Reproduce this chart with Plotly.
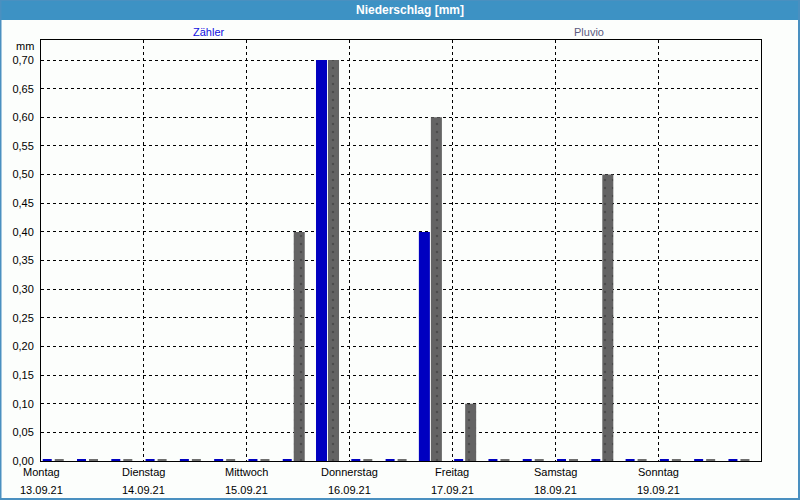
import plotly.graph_objects as go

# ---- data ----
days = ["Montag", "Dienstag", "Mittwoch", "Donnerstag", "Freitag", "Samstag", "Sonntag"]
dates = ["13.09.21", "14.09.21", "15.09.21", "16.09.21", "17.09.21", "18.09.21", "19.09.21"]
interval_hours = 8  # three 8-hour intervals per day
zaehler = [0, 0, 0,  0, 0, 0,  0, 0, 0.70,  0, 0, 0.40,  0, 0, 0,  0, 0, 0,  0, 0, 0]
pluvio = [0, 0, 0,  0, 0, 0,  0, 0.40, 0.70,  0, 0, 0.60,  0.10, 0, 0,  0, 0.50, 0,  0, 0, 0]
series_names = ["Zähler", "Pluvio"]
y_ticks = [round(0.05 * i, 2) for i in range(15)]

x_start = [i * interval_hours for i in range(len(zaehler))]

# ---- style ----
BLUE = "#0000c0"
GRAY = "#646464"
BG = "#fcfefc"
FONT = "Liberation Sans"
STUB = 0.0035  # visual baseline stub for zero values
bar_w = 2.57
blue_off, gray_off = 0.17, 2.97
stub_w = 2.1

fig = go.Figure()

# baseline stubs (drawn for every interval; hidden beneath real bars)
fig.add_trace(go.Bar(x=x_start, y=[STUB] * len(x_start), width=stub_w,
                     offset=blue_off + (bar_w - stub_w) / 2,
                     marker=dict(color=BLUE, line=dict(width=0)), showlegend=False, hoverinfo="skip"))
fig.add_trace(go.Bar(x=x_start, y=[STUB] * len(x_start), width=stub_w,
                     offset=gray_off + (bar_w - stub_w) / 2,
                     marker=dict(color="#6e6e6e", line=dict(width=0)), showlegend=False, hoverinfo="skip"))

fig.add_trace(go.Bar(name=series_names[0], x=x_start, y=zaehler, width=bar_w, offset=blue_off,
                     marker=dict(color=BLUE, line=dict(width=0)), showlegend=False))
fig.add_trace(go.Bar(name=series_names[1], x=x_start, y=pluvio, width=bar_w, offset=gray_off,
                     marker=dict(color=GRAY, line=dict(width=0),
                                 pattern=dict(shape=".", bgcolor=GRAY, fgcolor="#333333",
                                              size=8, solidity=0.08)),
                     showlegend=False))

L, R, T, B = 41, 39, 40, 39
W, H = 800, 500
pw, ph = W - L - R, H - T - B


def px_x(p):
    return (p - L) / pw


def px_y(p):
    return (H - B - p) / ph


annotations = []
# title
annotations.append(dict(text="<b>Niederschlag [mm]</b>", x=px_x(410), y=px_y(10), xref="paper", yref="paper",
                        showarrow=False, font=dict(family=FONT, size=12, color="white"),
                        xanchor="center", yanchor="middle"))
# series labels
annotations.append(dict(text=series_names[0], x=px_x(209), y=px_y(32), xref="paper", yref="paper",
                        showarrow=False, font=dict(family=FONT, size=11, color="#1010e0"),
                        xanchor="center", yanchor="middle"))
annotations.append(dict(text=series_names[1], x=px_x(589), y=px_y(32), xref="paper", yref="paper",
                        showarrow=False, font=dict(family=FONT, size=11, color="#5a5a80"),
                        xanchor="center", yanchor="middle"))
# unit label
annotations.append(dict(text="mm", x=px_x(36), y=px_y(46), xref="paper", yref="paper",
                        showarrow=False, font=dict(family=FONT, size=11, color="black"),
                        xanchor="right", yanchor="middle"))
# day / date labels
for d, (day, date) in enumerate(zip(days, dates)):
    annotations.append(dict(text=day, x=d * 24, y=px_y(472), xref="x", yref="paper",
                            showarrow=False, font=dict(family=FONT, size=11, color="black"),
                            xanchor="center", yanchor="middle"))
    annotations.append(dict(text=date, x=d * 24, y=px_y(490), xref="x", yref="paper",
                            showarrow=False, font=dict(family=FONT, size=11, color="black"),
                            xanchor="center", yanchor="middle"))

shapes = [
    # title bar
    dict(type="rect", xref="paper", yref="paper", x0=px_x(0), x1=px_x(800), y0=px_y(20), y1=px_y(0),
         fillcolor="#3d92c4", line=dict(width=0), layer="below"),
    # outer frame
    dict(type="rect", xref="paper", yref="paper", x0=px_x(0.5), x1=px_x(799), y0=px_y(499), y1=px_y(0),
         fillcolor="rgba(0,0,0,0)", line=dict(color="#4a90c0", width=2), layer="above"),
]

fig.update_layout(
    width=W, height=H,
    margin=dict(l=L, r=R, t=T, b=B, pad=0),
    paper_bgcolor=BG, plot_bgcolor=BG,
    barmode="overlay",
    separators=",.",
    font=dict(family=FONT, size=11, color="black"),
    annotations=annotations,
    shapes=shapes,
    showlegend=False,
    hovermode=False,
)
fig.update_xaxes(range=[0, len(days) * 24], tickvals=[d * 24 for d in range(len(days))],
                 showticklabels=False, ticks="",
                 showgrid=True, gridcolor="black", gridwidth=1, griddash="3px,3px",
                 showline=True, linecolor="black", linewidth=1, mirror=True, zeroline=False)
fig.update_yaxes(range=[0, 0.735], tickvals=y_ticks, tickformat=".2f",
                 ticks="outside", ticklen=4, tickcolor="rgba(0,0,0,0)",
                 tickfont=dict(family=FONT, size=11, color="black"),
                 showgrid=True, gridcolor="black", gridwidth=1, griddash="3px,3px",
                 showline=True, linecolor="black", linewidth=1, mirror=True, zeroline=False)

fig.write_html("out.html", config={"displayModeBar": False},
               post_script="document.body.style.margin='0';document.body.style.overflow='hidden';")
